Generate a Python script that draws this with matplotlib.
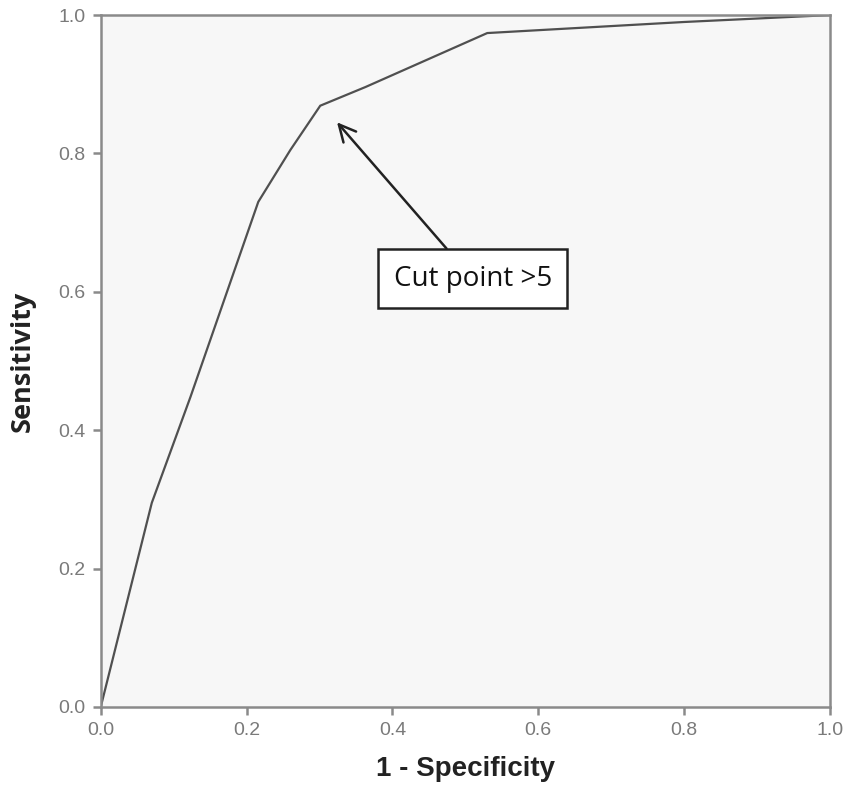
import matplotlib
matplotlib.use("Agg")
import matplotlib.pyplot as plt

fpr = [0.0, 0.07, 0.123, 0.216, 0.26, 0.301, 0.363, 0.530, 0.80, 1.0]
tpr = [0.0, 0.295, 0.448, 0.730, 0.805, 0.869, 0.896, 0.974, 0.99, 1.0]
ticks = [0.0, 0.2, 0.4, 0.6, 0.8, 1.0]
tick_labels = ["0.0", "0.2", "0.4", "0.6", "0.8", "1.0"]
annot_text = "Cut point >5"
annot_xy = (0.324, 0.845)
annot_text_xy = (0.510, 0.619)

fig = plt.figure(figsize=(8.48, 7.93), dpi=100)
ax = fig.add_axes([0.1188, 0.1085, 0.86, 0.8725])
ax.set_facecolor("#f7f7f7")
ax.plot(fpr, tpr, color="#505050", lw=1.6, solid_joinstyle="miter")
ax.set_xlim(0, 1)
ax.set_ylim(0, 1)
ax.set_xticks(ticks)
ax.set_xticklabels(tick_labels)
ax.set_yticks(ticks)
ax.set_yticklabels(tick_labels)
for s in ax.spines.values():
    s.set_color("#8a8a8a")
    s.set_linewidth(1.8)
ax.tick_params(colors="#8a8a8a", width=1.8, length=6, labelsize=14, pad=5)
for lab in ax.get_xticklabels() + ax.get_yticklabels():
    lab.set_fontfamily("Liberation Sans")
    lab.set_color("#7a7a7a")

ax.set_xlabel("1 - Specificity", fontsize=20, fontweight="bold",
              fontfamily="Liberation Sans", color="#222222", labelpad=12)
ax.set_ylabel("Sensitivity", fontsize=19.5, fontweight="bold",
              fontfamily="Open Sans", color="#222222", labelpad=16)

ax.annotate(annot_text, xy=annot_xy, xytext=annot_text_xy,
            fontsize=20, fontfamily="Open Sans", color="#111111",
            ha="center", va="center",
            bbox=dict(boxstyle="square,pad=0.55", fc="white", ec="#222222", lw=1.8),
            arrowprops=dict(arrowstyle="->,head_length=0.6,head_width=0.3",
                            color="#222222", lw=1.8, shrinkA=0, shrinkB=0))

fig.savefig("out.png", dpi=100)
